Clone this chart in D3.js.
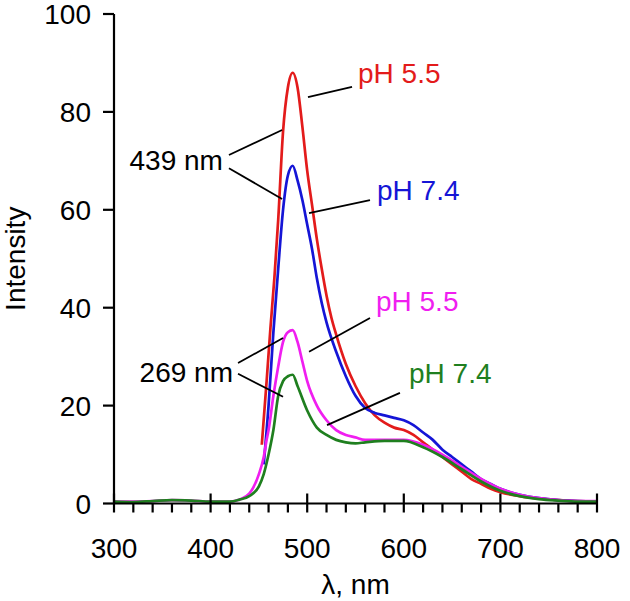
<!DOCTYPE html>
<html><head><meta charset="utf-8">
<script src="https://cdn.jsdelivr.net/npm/d3@7/dist/d3.min.js"></script>
<style>body{margin:0;background:#fff}text{font-family:"Liberation Sans",Arial,sans-serif}</style>
</head><body><svg id="c" width="630" height="601"></svg>
<script>
const redX  = [453,458,462,466,470,475,480,485,490,495,500,505,510,515,520,525,530,540,550,560,570,580,590,600,610,620,630,640,650,660,670,680,690,700,720,740,760,780,800];
const redY  = [12,25,36,46,58,76,85,88,85,77,68,61,54,48,42.5,38,34.5,28.5,24,20.5,18,16.5,15.5,15,14,12.5,11,9.5,8,6.5,5,4,3,2.3,1.5,1,0.7,0.5,0.4];
const blueX = [455,460,465,470,475,480,485,490,495,500,505,510,515,520,530,540,550,560,570,580,590,600,610,620,630,640,650,660,670,680,690,700,720,740,760,780,800];
const blueY = [8,20,35,48,60,67,69,66,62,57,52,46,41,37,31,26,22,19.5,18.5,18,17.5,17,16,14.5,13,11,9.5,8,6.5,5,4,3,1.8,1.1,0.7,0.5,0.4];
const magX  = [300,320,340,360,380,400,420,430,440,450,455,458,460,465,470,475,480,485,490,495,500,510,520,530,540,550,560,580,600,620,640,660,680,700,720,740,760,780,800];
const magY  = [0.4,0.4,0.5,0.7,0.6,0.4,0.4,0.8,2,6,9.5,13,15,22,28,33,35,35.4,33,29,25,20,17,15,14,13.5,13,13,13,12,10,7.5,5,3,1.8,1.1,0.7,0.5,0.5];
const grnX  = [300,320,340,360,380,400,420,430,440,450,455,460,465,470,475,480,485,490,500,510,520,530,540,550,560,580,600,620,640,660,680,700,720,740,760,780,800];
const grnY  = [0.4,0.3,0.5,0.7,0.6,0.4,0.4,0.8,1.5,3.5,6,10,15,22,25,26,26.3,24,19,15.5,14,13,12.5,12.3,12.5,12.8,12.8,11.5,9.5,7,4.5,2.6,1.5,0.9,0.6,0.4,0.4];

const xTicks = [300,400,500,600,700,800];
const yTicks = [0,20,40,60,80,100];

const series = [
  {x:redX, y:redY, color:"#e31b1b"},
  {x:blueX, y:blueY, color:"#1515d6"},
  {x:magX, y:magY, color:"#f01ef0"},
  {x:grnX, y:grnY, color:"#1f7f1f"}
];
// annotations in data coordinates
const leaders = [
  [[419,71.2],[474,76.3]],[[419,68.5],[474,62.2]],
  [[500.8,83.0],[546.4,85.1]],
  [[501.9,59.3],[565,62.0]],
  [[428.4,28.7],[475,33.8]],[[428.4,26.5],[475,21.8]],
  [[501.9,31.0],[565,37.9]],
  [[520.5,16.0],[596,22.6]]
];
const labels = [
  {t:"pH 5.5", x:552.6, y:85.9, c:"#e31b1b", a:"start"},
  {t:"pH 7.4", x:572.3, y:62.0, c:"#1515d6", a:"start"},
  {t:"pH 5.5", x:571.2, y:39.3, c:"#f01ef0", a:"start"},
  {t:"pH 7.4", x:605.4, y:24.6, c:"#1f7f1f", a:"start"},
  {t:"439 nm", x:412.8, y:68.1, c:"#000", a:"end"},
  {t:"269 nm", x:423.2, y:24.8, c:"#000", a:"end"}
];

const svg = d3.select("#c");
const x = d3.scaleLinear().domain([300,800]).range([114,597]);
const y = d3.scaleLinear().domain([0,100]).range([503.5,14]);
const fs = 28;

const line = d3.line().x(d=>x(d[0])).y(d=>y(d[1])).curve(d3.curveMonotoneX);
series.forEach(s=>{
  svg.append("path").datum(s.x.map((v,i)=>[v,s.y[i]]))
    .attr("d",line).attr("fill","none").attr("stroke",s.color)
    .attr("stroke-width",2.7).attr("stroke-linejoin","round");
});

// axes
const g = svg.append("g").attr("stroke","#000").attr("stroke-width",2.2);
g.append("line").attr("x1",x(300)).attr("x2",x(800)).attr("y1",y(0)).attr("y2",y(0));
g.append("line").attr("x1",x(300)).attr("x2",x(300)).attr("y1",y(0)).attr("y2",y(100));
d3.range(300,801,20).forEach(v=>{
  const major = v%100===0;
  g.append("line").attr("x1",x(v)).attr("x2",x(v))
   .attr("y1",major? y(0)-10 : y(0)).attr("y2",y(0)+9);
});
yTicks.forEach(v=>{
  g.append("line").attr("x1",x(300)-11).attr("x2",x(300)).attr("y1",y(v)).attr("y2",y(v));
});
xTicks.forEach(v=>{
  svg.append("text").attr("x",x(v)).attr("y",558).attr("text-anchor","middle")
    .attr("font-size",fs).text(v);
});
yTicks.forEach(v=>{
  svg.append("text").attr("x",91).attr("y",y(v)).attr("dy","0.36em").attr("text-anchor","end")
    .attr("font-size",fs).text(v);
});
svg.append("text").attr("x",x(550)).attr("y",594).attr("text-anchor","middle")
  .attr("font-size",fs).text("λ, nm");
svg.append("text").attr("transform","translate(25,"+y(50)+") rotate(-90)")
  .attr("text-anchor","middle").attr("font-size",fs).text("Intensity");

// leader lines
leaders.forEach(l=>{
  svg.append("line").attr("x1",x(l[0][0])).attr("y1",y(l[0][1]))
    .attr("x2",x(l[1][0])).attr("y2",y(l[1][1]))
    .attr("stroke","#000").attr("stroke-width",1.8);
});
labels.forEach(l=>{
  svg.append("text").attr("x",x(l.x)).attr("y",y(l.y)).attr("text-anchor",l.a)
    .attr("fill",l.c).attr("font-size",fs).text(l.t);
});
</script></body></html>
